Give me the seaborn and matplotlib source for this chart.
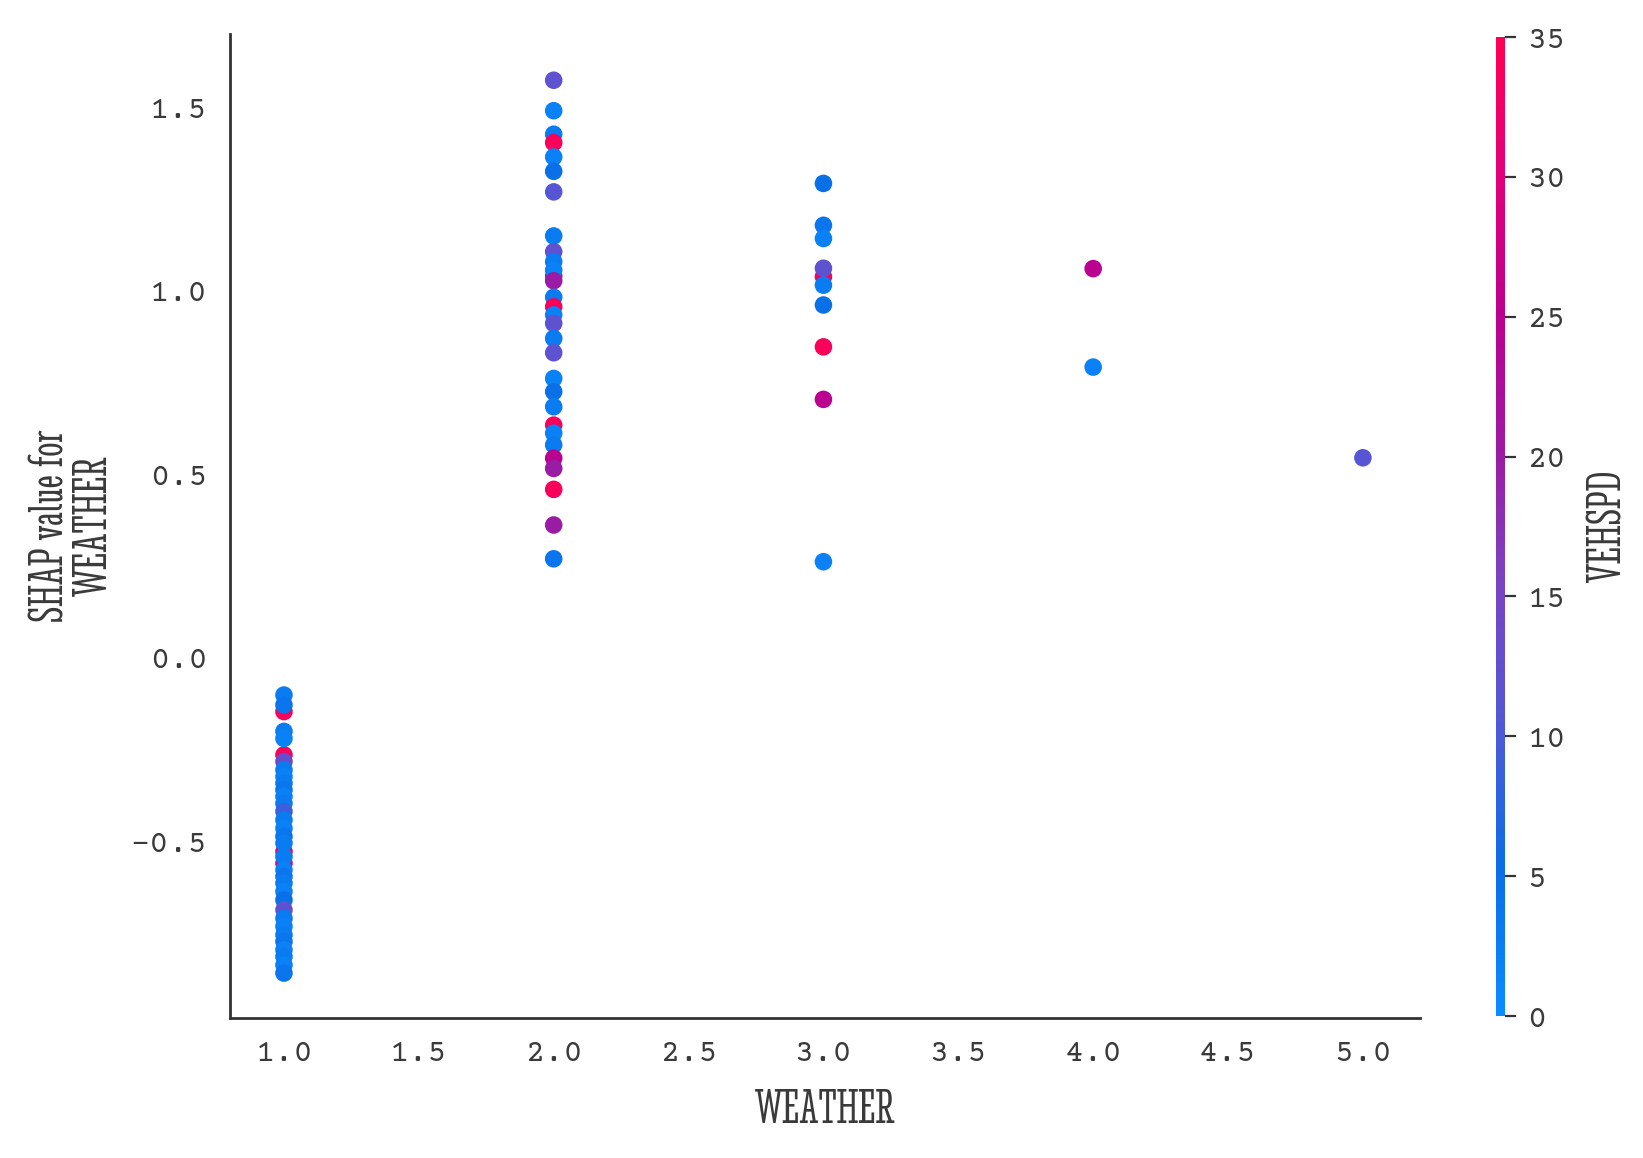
import matplotlib
matplotlib.use("Agg")
import matplotlib.pyplot as plt
from matplotlib.colors import LinearSegmentedColormap, Normalize
from matplotlib.cm import ScalarMappable
import pandas as pd
import seaborn as sns

## Data ##
# points that sit underneath (drawn first)
weather_back = [1, 1, 1, 1, 2, 3]
shap_back = [-0.146, -0.264, -0.527, -0.559, 1.040, 1.038]
speed_back = [34, 34, 33, 30, 33, 34]

weather_1 = [1] * 31
shap_1 = [-0.101, -0.128, -0.200, -0.219, -0.282, -0.305, -0.323, -0.341, -0.359,
          -0.377, -0.396, -0.418, -0.441, -0.464, -0.486, -0.504, -0.541, -0.577,
          -0.595, -0.613, -0.636, -0.659, -0.686, -0.709, -0.731, -0.754, -0.772,
          -0.795, -0.813, -0.836, -0.858]
speed_1 = [3, 4, 3, 2, 13, 3, 2, 3, 4, 2, 3, 9, 3, 2, 4, 3, 3, 2,
           4, 3, 2, 5, 12, 3, 2, 3, 4, 2, 3, 2, 4]

weather_2 = [2] * 28
shap_2 = [1.573, 1.490, 1.426, 1.403, 1.364, 1.325, 1.269, 1.149, 1.106, 1.079,
          1.056, 1.027, 0.982, 0.956, 0.934, 0.911, 0.870, 0.831, 0.761, 0.725,
          0.684, 0.634, 0.612, 0.580, 0.544, 0.516, 0.459, 0.362]
speed_2 = [12, 2, 3, 34, 2, 5, 11, 3, 12, 3, 2, 20, 3, 34, 2, 12, 3, 12, 2, 5,
           3, 34, 2, 3, 25, 20, 34, 20]

weather_3 = [3] * 9
shap_3 = [1.292, 1.178, 1.142, 1.061, 1.015, 0.961, 0.847, 0.704, 0.262]
speed_3 = [5, 4, 2, 12, 3, 5, 34, 25, 2]

weather_45 = [4, 4, 5]
shap_45 = [1.060, 0.792, 0.545]
speed_45 = [25, 2, 11]

# lowest point at x=2
weather_extra = [2]
shap_extra = [0.270]
speed_extra = [4]

df = pd.DataFrame({
    "WEATHER": weather_back + weather_1 + weather_2 + weather_3 + weather_45 + weather_extra,
    "SHAP": shap_back + shap_1 + shap_2 + shap_3 + shap_45 + shap_extra,
    "VEHSPD": speed_back + speed_1 + speed_2 + speed_3 + speed_45 + speed_extra,
})

## Colors ##
red_blue = LinearSegmentedColormap.from_list("red_blue", [
    (0.00, "#0a8cff"),
    (0.15, "#0a6ee6"),
    (0.30, "#5258d6"),
    (0.45, "#7c42c0"),
    (0.57, "#9a1ca4"),
    (0.72, "#bc008e"),
    (0.86, "#e2007a"),
    (1.00, "#ff0052"),
])
norm = Normalize(0, 35)

sns.set_style("white")
tick_font = ["Courier Prime", "Liberation Serif"]
label_font = ["Stint Ultra Condensed", "Liberation Serif"]
txt_col = "#3a3a3a"

fig = plt.figure(figsize=(16.43, 11.58), dpi=100)
ax = fig.add_axes([0.140, 0.121, 0.724, 0.850])
cax = fig.add_axes([0.9105, 0.1226, 0.0055, 0.8454])

sns.scatterplot(data=df, x="WEATHER", y="SHAP", hue="VEHSPD", palette=red_blue,
                hue_norm=norm, s=160, linewidth=0, alpha=1, legend=False, ax=ax)

ax.set_xlim(0.80, 5.21)
ax.set_ylim(-0.98, 1.70)
ax.set_xticks([1.0, 1.5, 2.0, 2.5, 3.0, 3.5, 4.0, 4.5, 5.0])
ax.set_yticks([-0.5, 0.0, 0.5, 1.0, 1.5])
ax.set_xticklabels(["1.0", "1.5", "2.0", "2.5", "3.0", "3.5", "4.0", "4.5", "5.0"],
                   fontfamily=tick_font, fontsize=23, color=txt_col)
ax.set_yticklabels(["\u22120.5", "0.0", "0.5", "1.0", "1.5"],
                   fontfamily=tick_font, fontsize=23, color=txt_col)
ax.tick_params(axis="both", length=8, width=1.6, color="#333333", pad=8)
for side in ["top", "right"]:
    ax.spines[side].set_visible(False)
for side in ["left", "bottom"]:
    ax.spines[side].set_color("#333333")
    ax.spines[side].set_linewidth(2)

ax.set_xlabel("WEATHER", fontfamily=label_font, fontsize=36, color=txt_col)
ax.xaxis.set_label_coords(0.5, -0.072)
ax.set_ylabel("SHAP value for\nWEATHER", fontfamily=label_font, fontsize=36,
              color=txt_col, linespacing=1.0)
ax.yaxis.set_label_coords(-0.095, 0.5)

sm = ScalarMappable(norm=norm, cmap=red_blue)
cb = fig.colorbar(sm, cax=cax, ticks=[0, 5, 10, 15, 20, 25, 30, 35])
cb.outline.set_visible(False)
cax.tick_params(length=8, width=1.6, color="#333333", pad=8)
for t in cax.get_yticklabels():
    t.set_fontfamily(tick_font)
    t.set_fontsize(23)
    t.set_color(txt_col)
cb.set_label("VEHSPD", fontfamily=label_font, fontsize=36, color=txt_col)
cax.yaxis.set_label_coords(10.1, 0.5)

fig.savefig("out.png", dpi=100)
